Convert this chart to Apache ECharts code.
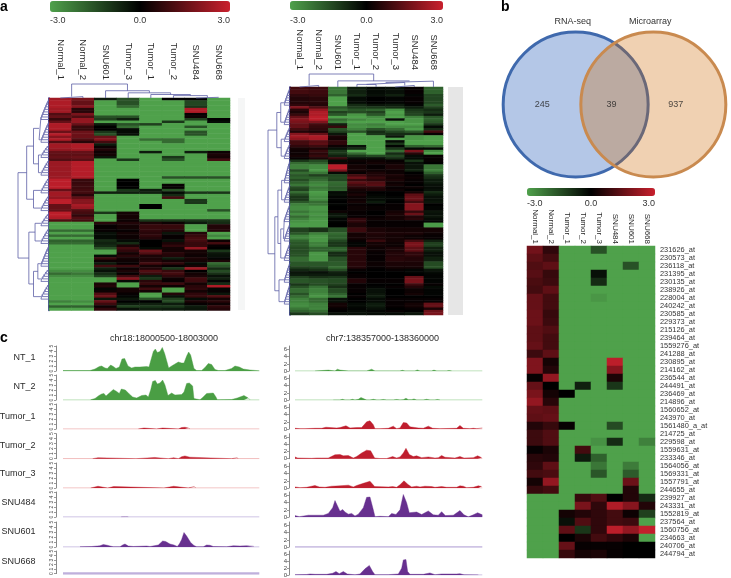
<!DOCTYPE html>
<html><head><meta charset="utf-8">
<style>html,body{margin:0;padding:0;background:#fff}#c{width:731px;height:578px}</style>
<script src="https://cdn.jsdelivr.net/npm/echarts@6/dist/echarts.min.js"></script></head>
<body><div id="c"></div>
<script>
// ---------- panel a ----------
const colsA1=['Normal_1','Normal_2','SNU601','Tumor_3','Tumor_1','Tumor_2','SNU484','SNU668'];
const colsA2=['Normal_1','Normal_2','SNU601','Tumor_1','Tumor_2','Tumor_3','SNU484','SNU668'];
const colsB=['Normal_1','Normal_2','Tumor_1','Tumor_2','Tumor_3','SNU484','SNU601','SNU668'];
// each band: [rows, then one log2 value per column]
const bandsA1=[
[1,2.4,1.8,-.5,-1.5,-3,0,0,-3],[2,2.6,1.5,-3,-1.5,-3,-3,-1.3,-3],[1,2.6,2,-3,-2,-3,-3,-1,-3],
[2,2.4,.6,-3,-3,-3,-3,2.6,-3],[1,1.2,1.8,-3,-3,-3,-3,.1,-3],[1,1.5,1.2,-1.5,-1.5,-3,-3,.2,-3],
[1,.8,2.2,-1.2,-.6,-3,-3,-1.2,0],[1,1.5,2.2,-3,-3,-3,-1,-3,-.2],[1,2.6,1.5,-.5,-1.5,-1.2,-3,-3,-3],
[1,2.6,.8,0,-2,-3,-3,-1.5,-3],[1,2.6,.8,0,-.2,-3,-3,-3,-3],[1,1.6,1.6,-1,-.2,-3,-3,-1.5,-3],
[1,2.7,1.6,-1.5,-.3,-3,-3,-1.5,-3],[1,2,1.6,1.6,-3,-3,-3,-3,-3],[1,2.6,1.2,2,-3,-2,-2,-3,-3],
[1,1.2,.6,1,-3,-3,-2,-3,-3],[1,2.4,2.6,-.5,-3,-3,-3,-3,-3],[1,2.4,2.6,.2,-3,-3,-3,-3,-3],
[1,2.2,2.4,.5,-3,-3,-3,-3,-3],[1,1.5,1.5,.2,-3,-.5,-3,-.5,.2],[1,1.4,1.4,.3,-3,-3,-3,-3,.4],
[1,1.5,1.6,-.4,-3,-3,-1,-3,.3],[1,1.2,1.3,-3,-1,-3,-1.5,-3,1],[6,2.3,2.7,-3,-3,-3,-3,-3,-3],
[1,2.3,2.6,-3,-3,-3,-1.5,-1.5,-1.5],[2,2.8,.8,-3,0,-3,-3,-3,-3],[2,2.8,.9,-3,0,-3,.1,-3,-3],
[1,1.5,1,-3,-1,-.5,-1.5,-3,-3],[1,2.4,1,-.6,-.6,-.6,-.2,-1,-1],[1,2.4,.6,-3,-3,-3,-.8,-3,-3],
[1,2.2,1.4,-3,-3,-3,1,-3,-3],[2,2.8,2,-3,-3,-3,-3,-1,-3],[1,1.5,2.5,-3,-3,0,-3,-3,-3],
[1,1.5,2.3,-3,-3,0,-3,-3,-3],[1,1.5,1.2,-3,-3,-3,-3,-3,-1.5],[1,2.8,1,-1,.3,-3,-3,-3,-3],
[1,2.8,.7,-3,.3,-3,-3,-3,-3],[1,2.6,1.2,-3,.3,-3,-3,-3,-3],[1,1.2,1,-3,.2,-1,-1,-1,-1],
[1,-3,-3,.6,.5,.4,.2,-.5,-.8],[2,-3,-3,.1,.3,.8,.8,-3,.5],[1,-2,-2,.1,.1,.7,.5,-3,.5],
[1,-3,-3,-.3,.3,.6,-.4,.5,-3],[1,-2,-2,-.2,.2,.7,.1,.8,-2.5],[1,-3,-3,-.2,.2,.5,.1,1,-3],
[1,-1.8,-1.8,-.8,-.2,0,-.3,1,.2],[1,-2,-2,-.6,-.8,0,.4,.8,1],[1,-3,-3,-.8,.4,0,.7,.8,.1],
[1,-3,-3,-1.5,1,-.2,.3,2.2,0],[1,-3,-3,-3,.7,1.6,.3,.3,-1],[1,-3,-3,-3,.3,1.2,.6,.3,-.4],
[1,-3,-3,-.2,.6,.4,.5,.2,-.3],[1,-3,-3,.8,.3,.4,-.5,.4,-.1],[1,-3,-3,.2,.2,.5,.3,.3,.4],
[1,-3,-3,-.5,.1,1,.7,-.2,-2],[1,-3,-3,1,.9,.3,.1,.3,-1.6],[1,-3,-3,-.6,.2,.5,-1,2.4,-.8],
[1,-2.6,-2.6,-.3,.4,1.2,.8,0,-1.4],[1,-2,-2.2,-.8,.1,.8,1,.3,-.9],[1,-2.6,-2.6,-1.2,.9,-.5,.7,.4,-.3],
[1,-3,-3,-3,2,-1,.2,1,-.6],[1,-3,-3,-3,-.2,.6,.1,.9,-.1],[1,-3,-3,.4,-3,.8,.9,.3,-.8],
[1,-3,-3,.5,-3,.3,.2,.6,2.6],[1,-3,-3,-.1,.3,.9,-3,.7,-.1],[1,-3,-3,.2,.3,.3,-3,.3,.1],
[1,-3,-3,1.2,.1,-3,.5,.7,-.4],[1,-3,-3,1.6,-.1,-3,-.3,.8,1.2],[1,-3,-3,-.4,-.4,-1.5,-1.2,-.2,.3],
[1,-2.4,-2.6,1.5,0,0,-1.4,.4,.6],[1,-3,-3,.9,-.5,-.6,-.5,.1,.2],[1,-1.8,-1.8,.2,-1.2,-1,-1,-.5,.7],
[1,-3,-3,.7,-.3,-.6,-.5,-.4,.5]];
const bandsA2=[
[3,1,.9,-2.2,-.6,-.2,-.3,.1,-1.8],[1,.7,.8,-1.8,-.8,-.3,-.6,-.1,-1.3],[3,.5,.6,-3,-.2,0,-.1,.1,-1.3],
[1,.7,.5,-3,-.8,-.4,-.5,-.1,-1.7],[1,1.9,1.2,-1.6,-1.1,-1,-.8,-.5,-1.2],[1,.6,2.2,-2,-1.6,-1.8,-2.7,-1,-.8],
[1,.4,2.6,-1.2,-1.4,-1.2,-3,-1.2,-1],[1,.8,2.6,-1.6,-2.8,-1.6,-2.8,-1.3,-.5],[1,1.5,2.8,-3,-3,-2.6,-3,-2.4,-1.6],
[1,2,2.8,-2,-2.5,-2.8,-.3,-2.8,-1.8],[1,1.8,1.9,-2.4,-3,-3,-3,-2.8,-1.6],[1,1.5,1,-.6,-2.6,-2.4,-3,-3,-1],
[1,1.5,.8,.8,-2.7,-2.6,-2.6,-2.6,-.2],[1,1,.7,-1.5,-2.4,-1.5,-2,-2.9,-.8],[1,.5,.4,-1.2,-1.5,-.8,-1.3,-1.6,1],
[1,2,1.5,-.4,-3,-1,-.8,-.8,.1],[1,2.4,2.6,.4,-3,-3,-.4,-2.8,-3],[1,2.1,2.5,.3,-3,-3,-3,-2.8,-3],
[1,1,1.3,.7,-3,-3,-.2,-3,-3],[1,1,1.4,.7,-3,-3,-1,-3,-3],[1,.7,.9,.2,-.3,-3,-.1,-1.8,-2],
[1,.3,.4,-.3,-.8,-3,-1,-.2,-.2],[1,.2,.8,-1,-3,-3,-2,1.8,-2.6],[1,.2,.6,-1,-2,-3,-.8,.6,-3],
[1,.3,.8,-.6,-1,-1.3,-1.3,-.2,.1],[1,.1,.4,.8,-.3,-.3,-.8,-.2,.1],
[1,-1,-1.4,-.2,.2,.2,.1,-1,.1],[1,-2,-1.8,.3,.1,.3,.2,-.3,0],[2,-2.4,-2.6,2.8,.3,.1,.4,-.4,-2.2],
[1,-1.4,-2.8,1.8,.3,.2,.2,-.6,-2.4],[1,-2,-2.2,-.2,.1,.4,.2,0,-1.8],[1,-1.6,-1.2,-1.3,1,.5,.4,.1,-1],
[1,-1.8,-1.8,-1.4,1.6,.8,.3,.2,-.8],[1,-1.4,-2,-1.3,.8,.6,.4,.1,-.5],[1,-1.8,-2.4,-2,1.4,1.2,.2,.1,-.5],
[1,-2.2,-2.6,-1.9,1,1.3,.3,0,-.3],[1,-1.4,-2.2,-1.7,.6,.6,.1,.2,-.2],[1,-1.2,-2.4,-1.8,.3,.4,.2,0,-.3],
[1,-2,-2.9,-.2,.2,0,0,.3,-.8],[1,-1.4,-2.8,-.3,.4,-.1,0,1.4,-.5],[2,-1,-2.6,-.1,.2,-.2,-.1,1.6,-.3],
[1,-1.6,-2,0,.3,-.5,0,1,-.4],[1,-2.4,-2.2,-.1,.1,0,.1,2,0],[2,-2.6,-2.8,0,.2,.1,.1,2,-.1],
[1,-2.2,-2.6,.2,.1,0,.3,.8,-.4],[1,-2.6,-2.8,-.4,.1,0,.4,1.6,-.3],[1,-2,-2.6,-.5,.1,.1,.3,.5,-.4],
[1,-2.4,-2.8,-.1,.7,.2,.3,.6,-.2],[1,-2.7,-2.9,-.1,.7,.1,.1,.1,-.1],[2,-2.9,-2.9,0,.4,.1,.1,.1,-2.9],
[2,-1.2,-.9,-1.5,.9,.4,.3,.3,.3],[1,-1.6,-2.4,-2,.3,.5,.4,.4,.2],[2,-2.4,-2.8,-1.8,.3,.4,.3,.2,.1],
[1,-1.8,-2.8,-1.3,.1,.8,.3,1,-.6],[2,-1.6,-2.4,-1,-.1,.3,.2,1.8,-1.2],[2,-1.4,-1.8,-1.8,.6,.2,.4,1.4,-.6],
[2,-1.5,-2.8,-.8,.6,.1,.5,.7,-.3],[2,-2,-2.8,-1.5,.6,.1,.6,.5,-.6],[2,-1.6,-1.6,-1.7,.6,.2,.4,.4,-1.4],
[1,-1.2,-1.3,-2,.5,.1,.3,.3,-1.5],[1,-.7,-.9,-1.4,.1,0,.1,-.1,-.4],[1,-.4,-.3,-.6,0,0,0,-.1,-.2],
[1,-.5,-.5,-.5,.1,0,0,0,-.1],[1,-1.2,-.9,-1,.1,0,0,1.5,-.1],[2,-1.6,-1.5,-1.4,.5,.1,.1,1.8,-.1],
[1,-1,-1.4,-1.2,.1,0,0,.9,.1],[1,-1.5,-2.1,-.9,.1,-.1,.1,.5,-.2],[2,-2,-2.4,-1.4,.1,-.3,0,.2,-.1],
[1,-1.5,-2.6,-1.8,0,-.4,0,.3,-.1],[1,-2,-2.8,-2.2,.1,-.5,0,0,0],[2,-2.4,-2,-.3,0,-.2,.1,.1,.1],
[2,-2.6,-2.4,.3,-.2,-.5,.1,.3,1.5],[1,-2.2,-2.5,.1,-.1,-.3,0,.1,.4],[1,-1.8,-2,0,-.2,-.1,.1,0,1.6],
[1,-1,-1.4,-.3,-.3,-.2,-.2,-.4,1.8]];
// ---------- panel b ----------
const rowsB=['231626_at','230573_at','236118_at','231395_at','230135_at','238926_at','228004_at','240242_at','230585_at','229373_at','215126_at','239464_at','1559276_at','241288_at','230895_at','214162_at','236544_at','244491_at','236469_at','214896_at','1560652_at','243970_at','1561480_a_at','214725_at','229598_at','1559631_at','233346_at','1564056_at','1569331_at','1557791_at','244655_at','239927_at','243331_at','1552819_at','237564_at','1560756_at','234663_at','240706_at','244794_at'];
const valuesB=[
[1.7,.7,-3,-3,-1.5,-3,-3,-3],[1.4,1,-3,-3,-3,-3,-3,-3],[1.2,1.4,-3,-3,-3,-3,-1.5,-3],[1.3,.8,-3,-3,-.3,-3,-3,-3],
[1.1,.9,-3,-3,-.8,-3,-3,-3],[1,1.4,-3,-3,-3,-3,-3,-3],[1.5,1,-3,-3,-2.8,-3,-3,-3],[1.5,1,-3,-3,-3,-3,-3,-3],
[1.6,.8,-3,-3,-3,-3,-3,-3],[1.6,.9,-3,-3,-3,-3,-3,-3],[1.4,1.2,-3,-3,-3,-3,-3,-3],[1.4,1,-3,-3,-3,-3,-3,-3],
[1.5,1,-3,-3,-3,-3,-3,-3],[.9,1.4,-3,-3,-3,-3,-3,-3],[1.9,.3,-3,-3,-3,2.8,-3,-3],[1.9,.5,-3,-3,-3,2,-3,-3],
[.1,2.2,-3,-3,-3,.4,-3,-3],[1.5,0,-3,-.6,-3,-1,-3,-3],[1.8,.3,0,-3,-3,-3,-3,-3],[2.2,.6,-3,-3,-3,-3,-3,-3],
[1.5,1.4,-3,-3,-3,-3,-3,-3],[1.4,1.5,-3,-3,-3,-3,-3,-3],[.5,.8,.1,-3,-3,-1.4,-3,-3],[.9,1.2,-3,-3,-3,-3,-3,-3],
[.9,1.2,-3,-3,-2.7,-.8,-3,-2.4],[.1,.4,-3,1,-3,-3,-3,-3],[.6,.5,-3,-.5,-1.8,-3,-3,-3],[.7,1.4,-3,-3,-2.2,-3,-2.3,-3],
[1,1.1,-3,-3,-1.6,-3,-1.7,-3],[.3,2.2,-3,-3,-3,-3,1.6,-3],[.8,1,-3,-3,-3,-3,.5,-3],
[-3,-3,-3,.8,1.2,0,.5,-.8],[-3,-3,-3,1.8,.7,2.6,2,.5],[-3,-3,.3,.5,.7,1,.2,-1.2],[-3,-3,-.3,1.2,.7,1,.9,-3],
[-3,-3,1.4,-1,.7,2.8,2.2,2.9],[-3,-3,0,.4,1,.7,.4,-3],[-3,-3,1.5,.1,.1,.1,0,0],[-3,-3,.8,.3,.4,.1,0,0]];
const vennSets=['RNA-seq','Microarray'];
const vennCounts=[245,39,937];
// ---------- panel c: [bin, coverage] ----------
const trackNames=['NT_1','NT_2','Tumor_1','Tumor_2','Tumor_3','SNU484','SNU601','SNU668'];
const titleLeft='chr18:18000500-18003000', titleRight='chr7:138357000-138360000';
const L_NT1=[[189,.1],[270,.1],[285,.4],[298,.9],[305,1],[315,.6],[322,.5],[332,1.2],[340,.9],[348,.5],[358,.8],[366,2.4],[374,2.5],[384,1],[395,.6],[405,.8],[420,.8],[440,.9],[447,.8],[452,2],[460,3.9],[466,4.4],[472,3.7],[480,3.9],[487,4.7],[494,3.5],[502,1.6],[506,.6],[515,1],[535,1.8],[545,1.6],[552,1.6],[560,3],[566,3.8],[572,3.2],[582,.5],[590,.1],[605,.1],[615,.7],[625,1.5],[635,1.3],[645,.3],[655,.1],[675,.1],[695,.5],[705,1],[718,.8],[730,.4],[750,.2],[778,.05]];
const L_NT2=[[272,.05],[285,.3],[297,.9],[305,1.2],[312,1.3],[318,.8],[328,1.4],[340,2.1],[350,1.7],[358,1.3],[364,2.2],[376,2],[388,1.2],[398,.6],[410,.4],[425,.9],[438,1],[445,.6],[452,2],[458,3.7],[466,3.9],[472,3.2],[480,3.4],[488,4],[495,3],[504,.9],[515,1.4],[525,1],[545,1.1],[552,1.6],[560,3.3],[568,3.4],[578,2.8],[582,.3],[600,.05],[608,.5],[620,1.3],[640,1.4],[648,.6],[652,.05],[695,.1],[712,.4],[732,.9],[745,.4],[750,.05]];
const L_T1=[[415,0],[420,.2],[432,.2],[437,0],[470,0],[475,.2],[488,.2],[492,0],[535,0],[545,.3],[555,.35],[565,.2],[570,0]];
const L_T2=[[278,0],[282,.2],[294,.2],[298,0],[408,0],[412,.25],[464,.25],[468,0],[505,0],[509,.2],[521,.2],[525,0],[535,0],[545,.4],[555,.55],[570,.3],[575,0],[695,0],[699,.2],[711,.2],[715,0]];
const L_T3=[[272,0],[276,.35],[294,.35],[298,0],[323,0],[327,.3],[341,.3],[345,0],[492,0],[496,.35],[521,.35],[525,0],[565,0],[569,.3],[583,.3],[587,0]];
const L_484=[[363,0],[367,.05],[381,.05],[385,0]];
const L_601=[[240,.03],[275,.1],[300,.25],[310,.5],[322,.35],[330,.2],[340,.05],[360,.05],[368,.4],[375,.6],[385,.2],[400,.1],[405,.2],[440,.2],[450,.1],[455,.3],[475,.4],[488,1.2],[497,1.1],[510,.6],[522,.4],[532,.1],[538,.6],[545,1.5],[552,2.9],[560,2.2],[572,.9],[582,.3],[590,.05],[610,.05],[620,.4],[630,.35],[640,.1],[680,.05],[700,.25],[720,.2],[740,.25],[760,.15],[762,.05]];
const L_668=[];
const R_NT1=[[165,0],[170,.25],[205,.25],[210,0],[225,0],[232,.5],[240,.25],[265,0],[300,0],[305,.3],[320,0],[325,0],[335,.5],[345,0],[390,0],[395,.3],[410,0],[420,0],[427,.2],[435,0],[465,0],[472,.3],[480,0],[515,0],[522,.25],[530,0],[560,0],[567,.15],[575,0]];
const R_NT2=[[220,0],[225,.15],[230,0],[240,0],[247,.2],[255,0],[270,0],[277,.2],[285,0],[295,.2],[303,.7],[310,.4],[320,0],[330,0],[340,.2],[350,0],[360,0],[370,.15],[380,0],[400,0],[410,.15],[420,0],[430,.1],[438,.5],[445,.1],[455,.1],[462,.3],[470,0],[490,0],[500,.2],[510,0],[525,0],[532,.15],[540,0]];
const R_T1=[[105,.2],[120,.1],[135,.1],[165,.2],[185,.2],[198,.5],[210,.4],[230,.3],[240,.4],[258,.9],[270,.3],[290,.4],[305,.4],[310,.8],[320,2],[330,2.3],[340,1.2],[345,.1],[360,.1],[385,.2],[390,.2],[400,.8],[410,.1],[420,.3],[430,1.8],[440,1.7],[450,.6],[475,.3],[490,.2],[505,.8],[518,.2],[540,.1],[590,.2],[595,.6],[600,1],[610,.2],[630,.1],[640,.2],[650,.1],[667,.3]];
const R_T2=[[105,.5],[113,.2],[155,.1],[170,.2],[185,.2],[205,.2],[210,.4],[225,1.1],[240,1.2],[250,.8],[265,.9],[280,.2],[290,.6],[305,1.6],[320,2.4],[332,2.2],[344,.2],[360,.05],[380,.05],[385,.3],[398,.6],[410,.2],[420,.5],[430,1.6],[438,2.9],[448,1.2],[460,.6],[470,.8],[485,.3],[505,.5],[525,.2],[535,.3],[545,.9],[555,.4],[585,.2],[600,.6],[612,.2],[640,.3],[653,.8],[665,.3]];
const R_T3=[[105,.3],[120,.1],[140,.2],[165,.7],[178,.3],[195,.2],[215,.5],[240,.6],[265,.8],[280,.3],[290,.7],[310,1.3],[330,1.9],[344,.4],[385,.3],[398,.4],[410,.2],[420,.9],[432,2],[444,1],[455,.3],[470,.5],[480,.3],[495,.5],[515,.4],[525,.2],[545,.4],[560,.2],[590,.2],[600,.6],[610,.5],[620,.1],[640,.2],[655,.6],[665,.4]];
const R_484=[[105,.4],[118,.1],[145,.5],[190,.5],[205,1],[218,2.6],[225,4.6],[232,3.2],[240,1.6],[248,2.1],[255,1.4],[265,.8],[275,1],[285,.3],[295,.8],[310,2.6],[320,5.5],[330,5.6],[340,2],[345,.1],[360,.2],[385,.1],[395,1],[408,.7],[420,2],[430,6.3],[440,4],[448,1.2],[470,1.4],[485,.7],[505,1.7],[520,.6],[535,.5],[545,1.5],[556,.4],[580,.5],[600,1.8],[612,.6],[625,.05],[640,.6],[653,1.2],[667,.6]];
const R_601=[];
const R_668=[[105,.1],[140,.15],[150,.3],[165,.2],[200,.2],[218,.5],[228,1],[238,.4],[250,1],[262,.3],[285,.05],[300,.3],[315,1.8],[328,2.8],[338,1],[345,.1],[385,.1],[415,.3],[425,2],[430,4.4],[438,4.5],[443,1],[450,.2],[490,.2],[510,.6],[525,.1],[545,.3],[590,.3],[600,.4],[612,.05],[655,.05]];
const leftTracks=[L_NT1,L_NT2,L_T1,L_T2,L_T3,L_484,L_601,L_668];
const rightTracks=[R_NT1,R_NT2,R_T1,R_T2,R_T3,R_484,R_601,R_668];
// dendrograms: [merge height, child, child]; a plain number is a run of that many leaves
const treeColA1=[1,[.1,1,1],[.52,1,[.37,1,[.25,1,[.17,1,[.05,1,1]]]]]];
const treeColA2=[1,[.12,1,1],[.47,1,[.45,[.35,[.2,1,1],[.12,1,1]],1]]];
const treeRowA1=[1,[.72,[.5,[.32,9,9],[.34,6,7]],[.5,7,7]],[.65,[.45,6,7],[.5,[.36,9,6],7]]];
const treeRowA2=[1,[.6,[.42,8,8],[.4,7,7]],[.69,[.55,[.38,10,8],[.42,[.3,8,8],8]],[.5,9,9]]];

// ---------- drawing ----------
const FONT='"Liberation Sans",Arial,sans-serif';
const GREEN='#4fa14b',RED='#c9202d';
const RAMP=[GREEN,'#000000',RED];
const DEND='#5d5fa6';
const opt={animation:false,backgroundColor:'#fff',textStyle:{fontFamily:FONT},grid:[],xAxis:[],yAxis:[],series:[],visualMap:[],graphic:[]};
function addGrid(g,x,y){const i=opt.grid.length;opt.grid.push(Object.assign({containLabel:false},g));
  opt.xAxis.push(Object.assign({gridIndex:i},x));opt.yAxis.push(Object.assign({gridIndex:i},y));return i;}
function expand(bands){const rows=[];bands.forEach(b=>{for(let k=0;k<b[0];k++)rows.push(b.slice(1));});return rows;}
function heat(box,cols,rows,lab,right){
  const data=[];rows.forEach((r,y)=>r.forEach((v,x)=>data.push([x,y,v])));
  const g=addGrid(box,
   {type:'category',data:cols,position:'top',axisLine:{show:false},axisTick:{show:false},
    axisLabel:{rotate:90,interval:0,fontSize:lab.size,margin:lab.margin,color:'#2a2a2a',fontFamily:FONT},splitLine:{show:false}},
   right?{type:'category',data:right,inverse:true,position:'right',axisLine:{show:false},axisTick:{show:false},
    axisLabel:{interval:0,fontSize:7.4,margin:5,color:'#333',fontFamily:FONT},splitLine:{show:false}}
   :{type:'category',data:rows.map((_,i)=>i),inverse:true,show:false});
  opt.series.push({type:'heatmap',xAxisIndex:g,yAxisIndex:g,data:data,silent:true,progressive:0,itemStyle:{borderWidth:0}});
  return opt.series.length-1;
}
function bar(box,si){
  opt.visualMap.push({type:'continuous',min:-3,max:3,seriesIndex:si,orient:'horizontal',left:box.left,top:box.top,
    itemWidth:box.h,itemHeight:box.width,padding:0,text:null,calculable:false,inRange:{color:RAMP},hoverLink:false,showLabel:false,textStyle:{fontSize:0}});
  addGrid({left:box.left,width:box.width,top:box.labelTop,height:1},
   {type:'value',min:-3,max:3,interval:3,position:'bottom',axisLine:{show:false},axisTick:{show:false},splitLine:{show:false},
    axisLabel:{fontSize:9,margin:0,verticalAlign:'top',color:'#333',alignMinLabel:'left',alignMaxLabel:'right',fontFamily:FONT,formatter:v=>v.toFixed(1)}},
   {type:'value',show:false,min:0,max:1});
}
function layout(node,start,segs,vertical){
  // returns {pos,h,next}
  if(typeof node==='number'){
    if(node===1) return {pos:start+.5,h:0,next:start+1};
    let pos=start+.5,h=0;
    const top=.26;
    for(let i=1;i<node;i++){const nh=top*(i/(node-1));const leaf=start+i+.5;
      segs.push([[h,pos],[nh,pos],[nh,leaf],[0,leaf]]);pos=(pos+leaf)/2;h=nh;}
    return {pos,h,next:start+node};
  }
  const a=layout(node[1],start,segs),b=layout(node[2],a.next,segs),H=node[0];
  segs.push([[a.h,a.pos],[H,a.pos],[H,b.pos],[b.h,b.pos]]);
  return {pos:(a.pos+b.pos)/2,h:H,next:b.next};
}
function dendro(box,tree,n,horizontal,edge){
  const segs=[];layout(tree,0,segs);const data=[];
  segs.forEach(s=>{s.forEach(p=>data.push(horizontal?[p[1],p[0]]:[p[0],p[1]]));data.push(['-','-']);});
  const hAx={type:'value',min:0,max:1,show:false},nAx={type:'value',min:0,max:n,show:false};
  const g=horizontal?addGrid(box,nAx,hAx):addGrid(box,Object.assign({},hAx,{inverse:true}),
     edge?{type:'value',min:0,max:n,inverse:true,position:'right',axisLine:{show:true,onZero:false,lineStyle:{color:'#23238f',width:1.6}},axisTick:{show:false},axisLabel:{show:false},splitLine:{show:false}}:Object.assign({},nAx,{inverse:true}));
  opt.series.push({type:'line',xAxisIndex:g,yAxisIndex:g,data,showSymbol:false,connectNulls:false,clip:false,silent:true,
    lineStyle:{color:DEND,width:.8}});
}
// panel a left
let s=heat({left:49,top:98,width:181,height:212.5},colsA1,expand(bandsA1),{size:9.4,margin:18});
bar({left:50,top:1,width:180,h:11,labelTop:15},s);
dendro({left:49,top:84,width:181,height:14},treeColA1,8,true);
dendro({left:18,top:98,width:31,height:212.5},treeRowA1,expand(bandsA1).length,false,true);
opt.graphic.push({type:'rect',shape:{x:238,y:98,width:7,height:212},style:{fill:'#f5f6f6'},silent:true});
// panel a right
s=heat({left:290,top:87,width:153,height:228},colsA2,expand(bandsA2),{size:9.4,margin:17});
bar({left:290,top:1,width:153,h:9,labelTop:15},s);
dendro({left:290,top:74,width:153,height:13},treeColA2,8,true);
dendro({left:268,top:87,width:22,height:228},treeRowA2,expand(bandsA2).length,false,true);
opt.graphic.push({type:'rect',shape:{x:448,y:87,width:15,height:228},style:{fill:'#e6e6e6'},silent:true});
// panel b venn
const vg=addGrid({left:498,width:237,top:4.5,height:200},{type:'value',min:-1,max:2,show:false},{type:'value',min:-1,max:1,show:false});
const vennStyles=[{fill:'rgba(68,114,196,.40)',edge:'#3f69ad',off:[-3,0]},{fill:'rgba(205,102,0,.30)',edge:'#c98a4f',off:[-3,0]}];
vennSets.forEach((name,i)=>opt.series.push({type:'scatter',xAxisIndex:vg,yAxisIndex:vg,clip:false,silent:true,symbolSize:145,
  data:[{value:[i,0],name}],itemStyle:{color:vennStyles[i].fill,borderColor:vennStyles[i].edge,borderWidth:3,opacity:1},
  label:{show:true,position:'top',distance:4,offset:vennStyles[i].off,formatter:name,fontSize:9,color:'#333',fontFamily:FONT}}));
const vennLabelX=[-.43,.46,1.29];
opt.series.push({type:'scatter',xAxisIndex:vg,yAxisIndex:vg,clip:false,silent:true,symbolSize:0,z:5,
  data:vennCounts.map((c,i)=>({value:[vennLabelX[i],0],name:String(c)})),
  label:{show:true,position:'inside',formatter:'{b}',fontSize:9,color:'#222',fontFamily:FONT}});
// panel b heat
s=heat({left:527,top:246,width:128,height:312},colsB,valuesB,{size:8,margin:2},rowsB);
bar({left:527,top:188,width:128,h:8,labelTop:198},s);
// panel c
const baselines=[371,400,429,458.7,488,517,547,576];
const areaCol=['#4a9e44','#4a9e44','#bf1e2e','#bf1e2e','#bf1e2e','#67308f','#67308f','#67308f'];
const paleCol=['#abd8a6','#abd8a6','#efb3b3','#efb3b3','#efb3b3','#bfb0dc','#bfb0dc','#bfb0dc'];
function tracks(list,cfg){list.forEach((pts,i)=>{
  const g=addGrid({left:cfg.left,width:cfg.width,top:baselines[i]-25,height:25},
   {type:'value',min:cfg.min,max:cfg.max,show:false},
   {type:'value',min:0,max:cfg.ymax,interval:cfg.interval,axisLine:{show:true,onZero:false,lineStyle:{color:'#555',width:.7}},
    axisTick:{show:true,length:2,lineStyle:{color:'#555',width:.6}},splitLine:{show:false},
    axisLabel:{fontSize:cfg.font,rotate:cfg.rot,margin:2,color:'#444',showMaxLabel:cfg.maxLab,fontFamily:FONT}});
  opt.series.push({type:'line',xAxisIndex:g,yAxisIndex:g,data:[[cfg.from,0],[cfg.to,0]],showSymbol:false,silent:true,z:1,
    lineStyle:{color:paleCol[i],width:pts.length?1:cfg.thick}});
  if(pts.length)opt.series.push({type:'line',xAxisIndex:g,yAxisIndex:g,data:pts,showSymbol:false,silent:true,z:2,
    lineStyle:{color:areaCol[i],width:.4},areaStyle:{color:areaCol[i],opacity:1,origin:'start'}});
});}
tracks(leftTracks,{left:56,width:203.3,min:168,max:778,from:189,to:778,ymax:5,interval:1,font:5,rot:90,maxLab:true,thick:2.5});
tracks(rightTracks,{left:289,width:193.3,min:87,max:667,from:105,to:667,ymax:7,interval:2,font:6,rot:0,maxLab:false,thick:1.5});
const labelY=[358,387,417,446,474,503,532,562];
function txt(t,x,y,o){opt.graphic.push({type:'text',x,y,silent:true,style:Object.assign({text:t,fontFamily:FONT,fontSize:9,fill:'#2a2a2a',textVerticalAlign:'middle',verticalAlign:'middle'},o||{})});}
trackNames.forEach((n,i)=>txt(n,35.5,labelY[i],{align:'right'}));
txt(titleLeft,164,339,{align:'center',fontSize:9});
txt(titleRight,382.5,339,{align:'center',fontSize:9});
txt('a',0,7,{fontSize:14,fontWeight:'bold',fill:'#000'});
txt('b',501,7,{fontSize:14,fontWeight:'bold',fill:'#000'});
txt('c',0,338,{fontSize:14,fontWeight:'bold',fill:'#000'});
const chart=echarts.init(document.getElementById('c'),null,{renderer:'canvas'});
chart.setOption(opt);
</script></body></html>
